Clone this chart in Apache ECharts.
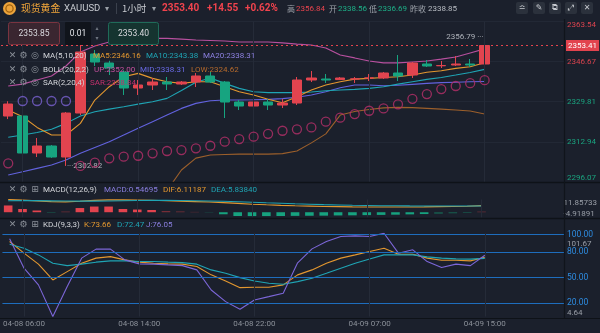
<!DOCTYPE html>
<html>
<head>
<meta charset="utf-8">
<script src="https://cdn.jsdelivr.net/npm/echarts@6.0.0/dist/echarts.min.js"></script>
<style>
html,body{margin:0;padding:0;background:#1b202c;overflow:hidden}
#c{width:600px;height:333px}
</style>
</head>
<body>
<div id="c"></div>
<script>
// ---------------- data ----------------
const times = ['04-06 04:00','04-08 06:00','04-08 07:00','04-08 08:00','04-08 09:00','04-08 10:00','04-08 11:00','04-08 12:00','04-08 13:00','04-08 14:00','04-08 15:00','04-08 16:00','04-08 17:00','04-08 18:00','04-08 19:00','04-08 20:00','04-08 21:00','04-08 22:00','04-08 23:00','04-09 00:00','04-09 01:00','04-09 02:00','04-09 03:00','04-09 04:00','04-09 06:00','04-09 07:00','04-09 08:00','04-09 09:00','04-09 10:00','04-09 11:00','04-09 12:00','04-09 13:00','04-09 14:00','04-09 15:00'];
const opens  = [2323.79,2323.80,2308.25,2311.19,2306.57,2325.05,2349.84,2346.06,2342.28,2335.56,2336.82,2338.08,2337.24,2338.08,2340.60,2338.08,2329.67,2327.99,2329.67,2328.41,2329.25,2338.92,2339.34,2339.10,2339.34,2339.76,2339.76,2341.86,2341.02,2345.64,2344.90,2345.22,2345.64,2345.64];
const closes = [2328.83,2308.25,2311.19,2306.57,2325.05,2350.68,2346.48,2343.96,2335.56,2336.82,2338.08,2337.24,2338.08,2340.60,2338.08,2329.67,2327.99,2329.67,2328.41,2329.25,2338.92,2339.76,2338.92,2339.76,2339.40,2339.80,2341.86,2340.60,2346.06,2344.80,2345.00,2345.64,2345.22,2353.41];
const lows   = [2322.50,2304.46,2306.57,2306.20,2302.82,2324.21,2344.80,2341.02,2332.62,2332.62,2334.72,2334.72,2336.82,2335.98,2337.66,2322.95,2326.31,2319.17,2326.31,2327.15,2328.41,2338.08,2337.66,2338.92,2337.66,2338.50,2339.34,2338.50,2339.76,2344.38,2343.96,2344.80,2344.38,2344.90];
const highs  = [2330.00,2328.40,2314.55,2311.60,2325.47,2354.88,2351.52,2347.00,2343.00,2338.92,2339.76,2340.18,2338.50,2341.86,2342.28,2338.50,2330.51,2330.51,2330.93,2330.93,2340.18,2342.70,2341.44,2340.18,2340.18,2341.44,2342.28,2349.42,2346.48,2347.32,2346.90,2349.00,2347.74,2356.79];
const ma5  = [2326.31,2323.5,2319.0,2315.8,2315.8,2320.7,2330.5,2336.1,2340.3,2341.7,2339.6,2338.2,2337.5,2338.2,2338.2,2336.1,2334.0,2332.6,2330.8,2329.4,2331.9,2334.7,2336.8,2338.2,2339.3,2339.6,2340.0,2340.3,2341.0,2342.2,2342.8,2343.8,2344.5,2346.16];
const ma10 = [2314.9,2315.8,2316.9,2318.2,2320.7,2323.8,2325.6,2326.7,2327.7,2328.8,2329.8,2331.2,2334.5,2338.0,2339.8,2337.5,2335.4,2334.0,2333.6,2333.6,2333.6,2333.9,2334.4,2334.7,2335.0,2335.4,2336.1,2337.2,2338.2,2339.2,2340.0,2341.0,2342.1,2343.38];
const ma20 = [2299.0,2300.4,2301.8,2303.2,2305.3,2308.1,2310.6,2313.0,2315.8,2318.6,2321.4,2324.2,2327.0,2329.1,2330.2,2330.5,2330.5,2330.6,2330.8,2331.1,2331.7,2332.6,2334.0,2335.7,2336.8,2336.8,2336.5,2336.7,2337.1,2337.5,2337.8,2338.0,2338.2,2338.31];
const bollUp  = [2336.4,2337.2,2338.9,2340.6,2344.8,2350.7,2353.2,2354.9,2355.7,2356.1,2356.4,2356.4,2356.1,2355.7,2355.5,2355.3,2354.9,2354.9,2354.9,2354.5,2354.0,2353.6,2352.4,2349.4,2348.2,2346.9,2346.1,2346.1,2346.5,2346.9,2347.7,2348.6,2350.3,2352.00];
const bollLow = [2262.0,2263.5,2264.7,2265.8,2265.8,2265.5,2268.0,2271.1,2275.9,2281.1,2286.4,2292.5,2301.1,2306.1,2307.4,2307.6,2307.8,2307.8,2307.8,2308.0,2309.1,2312.5,2316.3,2324.2,2325.7,2326.5,2327.2,2327.4,2327.3,2327.0,2326.7,2326.3,2325.9,2324.62];
const sar     = [2303.9,2330.1,2330.1,2330.1,2330.1,2302.82,2304.2,2306.0,2306.7,2307.1,2308.1,2309.1,2309.5,2310.2,2311.3,2313.0,2314.1,2315.1,2316.3,2317.6,2318.2,2319.0,2321.4,2323.1,2324.6,2326.0,2327.0,2328.7,2331.0,2333.0,2335.1,2336.4,2337.6,2338.84];
const sarSide = [1,-1,-1,-1,-1,1,1,1,1,1,1,1,1,1,1,1,1,1,1,1,1,1,1,1,1,1,1,1,1,1,1,1,1,1];
const macdHist = [6.3,3.0,1.6,-0.5,0.6,3.9,5.3,5.3,3.0,2.5,2.1,1.1,0.7,0.3,-0.3,-1.9,-3.5,-3.6,-3.6,-3.5,-3.4,-3.3,-3.2,-3.0,-2.9,-2.7,-2.5,-2.3,-2.0,-1.7,-1.4,-1.0,-0.6,0.54695];
const dif = [11.857,11.3,10.6,9.9,9.6,10.2,11.0,11.5,11.6,11.4,11.1,10.7,10.3,9.9,9.5,8.9,8.2,7.5,6.9,6.4,6.0,5.7,5.4,5.2,5.0,4.9,4.8,4.8,4.9,5.0,5.2,5.4,5.6,6.11187];
const dea = [10.7,10.8,10.8,10.6,10.4,10.3,10.3,10.5,10.7,10.9,11.0,11.0,10.9,10.7,10.5,10.2,9.8,9.3,8.8,8.4,7.9,7.5,7.1,6.8,6.5,6.3,6.1,6.0,5.9,5.85,5.8,5.8,5.8,5.83840];
const kVals = [92.1,78.5,65.7,47.3,57.0,66.8,72.7,74.5,70.7,68.0,66.8,66.0,65.7,62.9,53.2,46.1,38.3,38.8,38.8,41.5,53.2,59.0,66.8,72.7,76.5,80.4,84.3,77.3,77.3,72.7,70.3,70.3,69.5,73.66];
const dVals = [89.0,84.3,76.5,66.8,64.0,65.7,68.0,69.5,69.5,68.7,68.7,68.0,67.5,65.7,59.0,55.1,50.0,46.1,43.5,42.3,45.3,49.3,55.1,61.0,66.8,71.8,76.5,76.5,76.5,74.2,72.7,71.8,71.5,72.47];
const jVals = [95.2,61.0,41.5,4.64,39.5,72.7,83.2,83.2,70.7,66.0,65.7,64.8,64.0,59.0,35.6,22.0,13.1,23.9,27.8,31.8,67.2,83.5,92.1,97.9,98.7,97.9,101.67,78.5,82.4,68.7,61.7,65.7,64.0,76.05];
const priceTicks = [2296.07,2312.94,2329.81,2346.67,2363.54];
const macdTicks = [-4.91891,11.85733];
const kdjTicks = [4.64,101.67];
const kdjLevels = [100,80,50,20];
const prevClose = 2338.85;
const header = {name:'现货黄金', code:'XAUUSD', period:'1小时', last:'2353.40', chg:'+14.55', pct:'+0.62%',
  high:'2356.84', open:'2338.56', low:'2336.69', prev:'2338.85', bid:'2353.85', step:'0.01', ask:'2353.40'};

// ---------------- build ----------------
const N = closes.length;
const xCats = times.concat(['', '', '', '', '']);
const candle = opens.map((o, i) => [o, closes[i], lows[i], highs[i]]);
const vIdx = times.map((t, i) => i).filter(i => i % 8 === 1);
const last = a => a[a.length - 1];
const F = 'Roboto, "Noto Sans CJK SC", sans-serif';
const CJK = '"Noto Sans CJK SC", sans-serif';
const UP = '#e2444f', DN = '#17a480';
const C5 = '#e3972f', C10 = '#1fa4b4', C20 = '#6262de', CUP = '#b8509f', CLOW = '#9c5f2b';
const LF = 8; // legend font size

function txt(x, y, s, fill, size, opt) {
  opt = opt || {};
  return {type: 'text', z: 100, silent: true,
    style: {x: x, y: y, text: s, fill: fill, font: (opt.bold ? 'bold ' : '') + size + 'px ' + (opt.family || F),
      verticalAlign: 'middle', align: opt.align || 'left'}};
}
function rect(x, y, w, h, fill, stroke, r) {
  return {type: 'rect', z: 99, silent: true, shape: {x: x, y: y, width: w, height: h, r: r || 0},
    style: {fill: fill, stroke: stroke || null, lineWidth: 1}};
}
function hline(y, x1, x2, c, w) {
  return {type: 'line', z: 50, silent: true, shape: {x1: x1, y1: y, x2: x2, y2: y}, style: {stroke: c, lineWidth: w || 1}};
}
function vline(x, y1, y2, c, w) {
  return {type: 'line', z: 50, silent: true, shape: {x1: x, y1: y1, x2: x, y2: y2}, style: {stroke: c, lineWidth: w || 1}};
}
const GREY = '#8b9099', WHITE = '#d4d6db';
function icons(y, third) {
  return [txt(12.5, y, '✕', GREY, 9, {align: 'center', family: '"DejaVu Sans"'}),
          txt(23.5, y, '⚙', GREY, 9, {align: 'center', family: '"DejaVu Sans"'}),
          txt(35, y, third, GREY, 9, {align: 'center', family: '"DejaVu Sans"'})];
}

const elements = [
  // separators
  hline(182.5, 0, 600, '#0e1218', 1.5), hline(218.5, 0, 600, '#0e1218', 1.5), hline(318.5, 0, 600, '#0e1218', 1.2),
  vline(564.5, 19, 318, '#10141b', 1.2),
  // header row 1
  {type: 'circle', z: 100, silent: true, shape: {cx: 9.5, cy: 8.5, r: 6.5}, style: {fill: '#eda43b'}},
  {type: 'circle', z: 101, silent: true, shape: {cx: 9.5, cy: 8.5, r: 3.6}, style: {fill: 'none', stroke: '#a2640f', lineWidth: 1.3}},
  txt(21, 8.5, header.name, '#f0a53a', 9.8, {family: CJK}),
  txt(64, 8.5, header.code, '#c8cbd1', 9.5),
  txt(105, 8.5, '▾', '#9aa0a8', 8, {family: '"DejaVu Sans"'}),
  vline(116.5, 3, 14, '#3b414d', 1),
  txt(122, 8.5, header.period, '#c8cbd1', 9.5, {family: CJK}),
  txt(152, 8.5, '▾', '#9aa0a8', 8, {family: '"DejaVu Sans"'}),
  txt(162, 8.5, header.last, '#f0434d', 10, {bold: true}),
  txt(207, 8.5, header.chg, '#f0434d', 10, {bold: true}),
  txt(245, 8.5, header.pct, '#f0434d', 10, {bold: true}),
  txt(287, 8.5, '高', '#9ea3ab', 8, {family: CJK}),
  txt(296, 8.5, header.high, '#e8444e', 8),
  txt(329, 8.5, '开', '#9ea3ab', 8, {family: CJK}),
  txt(338, 8.5, header.open, '#1db088', 8),
  txt(369, 8.5, '低', '#9ea3ab', 8, {family: CJK}),
  txt(378, 8.5, header.low, '#1db088', 8),
  txt(410, 8.5, '昨收', '#9ea3ab', 8, {family: CJK}),
  txt(428, 8.5, header.prev, '#b8bcc3', 8)
];
const tb = [[516, '≏'], [533, '✎'], [549, '⧉'], [565, '⤢'], [581, '✕']];
tb.forEach(t => { elements.push(rect(t[0], 2, 12, 12, '#2b313c', null, 2)); elements.push(txt(t[0] + 6, 8.3, t[1], '#c5c8ce', 8, {align: 'center', family: '"DejaVu Sans"'})); });
// header row 2
elements.push(rect(8.5, 22.5, 51, 22, '#3a2630', '#7a3440', 2), txt(34, 33.8, header.bid, '#d9d9de', 8.5, {align: 'center'}));
elements.push(rect(65, 22, 26, 23, '#10141b', null, 1), txt(78, 33.8, header.step, '#e4e6ea', 8.5, {align: 'center'}));
elements.push(txt(97, 28.5, '▴', '#6f7580', 6, {align: 'center', family: '"DejaVu Sans"'}), txt(97, 38.5, '▾', '#6f7580', 6, {align: 'center', family: '"DejaVu Sans"'}));
elements.push(rect(108.5, 22.5, 50, 22, '#153430', '#1f6b59', 2), txt(133.5, 33.8, header.ask, '#d9d9de', 8.5, {align: 'center'}));
// legends
elements.push(...icons(56, '◎'), txt(43, 56, 'MA(5,10,20)', WHITE, LF),
  txt(93, 56, 'MA5:' + last(ma5).toFixed(2), C5, LF), txt(146, 56, 'MA10:' + last(ma10).toFixed(2), C10, LF),
  txt(203, 56, 'MA20:' + last(ma20).toFixed(2), '#8c80e0', LF));
elements.push(...icons(69.5, '◎'), txt(43, 69.5, 'BOLL(20,2,2)', WHITE, LF),
  txt(94, 69.5, 'UP:' + last(bollUp).toFixed(2), '#c4509e', LF), txt(140, 69.5, 'MID:' + last(ma20).toFixed(2), '#6a6ae6', LF),
  txt(191, 69.5, 'LOW:' + last(bollLow).toFixed(2), '#b66a2c', LF));
elements.push(...icons(83, '◎'), txt(43, 83, 'SAR(2,20,4)', WHITE, LF),
  txt(90, 83, 'SAR:' + last(sar).toFixed(2), '#c2306d', LF));
elements.push(...icons(190, '⊞'), txt(43, 190, 'MACD(12,26,9)', WHITE, LF),
  txt(104, 190, 'MACD:' + last(macdHist).toFixed(5), '#8b7fe0', LF), txt(163, 190, 'DIF:' + last(dif).toFixed(5), C5, LF),
  txt(211, 190, 'DEA:' + last(dea).toFixed(5), C10, LF));
elements.push(...icons(225, '⊞'), txt(43, 225, 'KDJ(9,3,3)', WHITE, LF),
  txt(84, 225, 'K:' + last(kVals).toFixed(2), C5, LF), txt(117, 225, 'D:' + last(dVals).toFixed(2), C10, LF),
  txt(146, 225, 'J:' + last(jVals).toFixed(2), '#8b7fe0', LF));

const gridVLines = {silent: true, symbol: ['none', 'none'], label: {show: false}, emphasis: {disabled: true},
  lineStyle: {color: '#252b38', width: 1, type: 'solid'}, data: vIdx.map(i => ({xAxis: i}))};

function lineS(data, color, gi, extra) {
  return Object.assign({type: 'line', xAxisIndex: gi, yAxisIndex: gi, data: data, symbol: 'none', smooth: false,
    silent: true, lineStyle: {color: color, width: 1.1}, itemStyle: {color: color}, z: 3}, extra || {});
}
function sideAxis(gi, ticks, digits, colorFn, maxPad) {
  const hi = ticks[ticks.length - 1];
  return {type: 'value', gridIndex: gi, position: 'right', min: ticks[0], max: hi, scale: true,
    axisLine: {show: false}, axisTick: {show: false, customValues: ticks},
    splitLine: {show: gi === 0, lineStyle: {color: '#222835'}},
    axisLabel: {customValues: ticks, fontSize: 8, margin: 3, fontFamily: F,
      formatter: v => (Number(v) === hi && maxPad ? '{p|' + Number(v).toFixed(digits) + '}' : Number(v).toFixed(digits)),
      rich: {p: {padding: [maxPad || 0, 0, 0, 0], fontSize: 8, color: '#9a9fa8'}},
      color: colorFn, verticalAlignMinLabel: 'bottom', verticalAlignMaxLabel: 'top'}};
}

const option = {
  backgroundColor: '#1b202c',
  animation: false,
  textStyle: {fontFamily: F},
  grid: [
    {left: 1, right: 36, top: 21.4, height: 160.6},
    {left: 1, right: 36, top: 199.5, height: 18},
    {left: 1, right: 36, top: 233.3, height: 83.2}
  ],
  xAxis: [0, 1, 2].map(g => ({
    type: 'category', gridIndex: g, data: xCats, boundaryGap: true,
    axisLine: {show: false}, axisTick: {show: false}, splitLine: {show: false},
    axisLabel: g === 2 ? {show: true, interval: (i) => i % 8 === 1 && i < N, color: '#8b9099', fontSize: 8, margin: 4} : {show: false}
  })),
  yAxis: [
    sideAxis(0, priceTicks, 2, v => Number(v) > prevClose ? '#d9434e' : '#1aa37f', 0),
    sideAxis(1, macdTicks, 5, '#9a9fa8', 0),
    sideAxis(2, kdjTicks, 2, '#9a9fa8', 7)
  ],
  series: [
    {type: 'candlestick', xAxisIndex: 0, yAxisIndex: 0, data: candle, barWidth: '68%', silent: true, z: 4,
      itemStyle: {color: UP, color0: DN, borderColor: UP, borderColor0: DN, borderWidth: 1},
      markLine: {silent: true, symbol: ['none', 'none'], emphasis: {disabled: true}, data: [{yAxis: last(closes)}],
        lineStyle: {color: '#e2434e', type: [2, 3], width: 1},
        label: {position: 'end', formatter: p => p.value.toFixed(2), color: '#ffffff', backgroundColor: '#e2434e',
          padding: [2, 2, 1, 2], fontSize: 8, distance: 2}},
      markPoint: {silent: true, symbol: 'circle', symbolSize: 0.1, itemStyle: {color: 'transparent'},
        label: {color: '#aeb2ba', fontSize: 8},
        data: [
          {type: 'max', valueDim: 'highest', label: {position: 'left', distance: 1, formatter: p => p.value.toFixed(2) + ' ···'}},
          {type: 'min', valueDim: 'lowest', label: {position: 'right', distance: 1, formatter: p => '···' + p.value.toFixed(2)}}
        ]}},
    lineS(bollUp, CUP, 0),
    lineS(bollLow, CLOW, 0),
    lineS(ma20, C20, 0, {markLine: gridVLines}),
    lineS(ma10, C10, 0),
    lineS(ma5, C5, 0),
    {type: 'scatter', xAxisIndex: 0, yAxisIndex: 0, symbol: 'circle', symbolSize: 9, silent: true, z: 5,
      data: sar.map((v, i) => ({value: [i, v], itemStyle: {color: 'rgba(0,0,0,0)', borderColor: sarSide[i] > 0 ? '#b8306a' : '#7a62d2', borderWidth: 1.3}}))},
    {type: 'bar', xAxisIndex: 1, yAxisIndex: 1, barWidth: '60%', silent: true,
      data: macdHist.map(v => ({value: v, itemStyle: {color: v >= 0 ? (Math.abs(v) >= 1.5 ? '#e2434e' : '#7a2e38') : (Math.abs(v) >= 1.5 ? '#17a27f' : '#175c4e')}}))},
    lineS(dif, C5, 1),
    lineS(dea, C10, 1, {markLine: gridVLines}),
    lineS(kVals, C5, 2, {markLine: {silent: true, symbol: ['none', 'none'], emphasis: {disabled: true},
      data: kdjLevels.map(v => ({yAxis: v})), lineStyle: {color: '#1e6dbd', width: 1.2, type: 'solid'},
      label: {position: 'end', formatter: p => p.value.toFixed(2), color: '#2d8be0', fontSize: 8.5, distance: 3}}}),
    lineS(dVals, C10, 2, {markLine: gridVLines}),
    lineS(jVals, '#7c66d8', 2)
  ],
  graphic: {elements: elements}
};
const chart = echarts.init(document.getElementById('c'), null, {renderer: 'canvas'});
chart.setOption(option);
</script>
</body>
</html>
